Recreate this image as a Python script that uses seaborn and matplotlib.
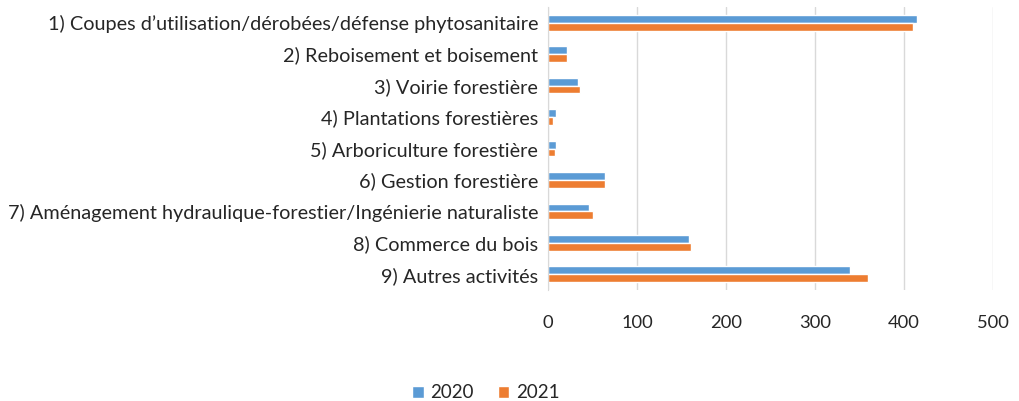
import matplotlib
matplotlib.use("Agg")
import matplotlib.pyplot as plt
import seaborn as sns
import pandas as pd

categories = [
    "1) Coupes d’utilisation/dérobées/défense phytosanitaire",
    "2) Reboisement et boisement",
    "3) Voirie forestière",
    "4) Plantations forestières",
    "5) Arboriculture forestière",
    "6) Gestion forestière",
    "7) Aménagement hydraulique-forestier/Ingénierie naturaliste",
    "8) Commerce du bois",
    "9) Autres activités",
]
values_2020 = [415, 21, 34, 9, 9, 64, 46, 158, 339]
values_2021 = [410, 21, 36, 6, 8, 64, 50, 161, 360]
years = ["2020", "2021"]
colors = ["#5B9BD5", "#ED7D31"]

df = pd.DataFrame({
    "cat": categories * 2,
    "val": values_2020 + values_2021,
    "year": [years[0]] * len(categories) + [years[1]] * len(categories),
})

sns.set_style("white")
plt.rcParams["font.family"] = ["Lato", "DejaVu Sans"]

fig = plt.figure(figsize=(10.19, 4.01), dpi=100)
ax = fig.add_axes([548 / 1019, 1 - 290 / 401, 445 / 1019, 283 / 401])

sns.barplot(data=df, y="cat", x="val", hue="year", palette=colors,
            orient="h", width=0.5, ax=ax, saturation=1, legend=True)

ax.set_xlim(0, 500)
ax.set_ylim(8.5, -0.5)
ax.set_xticks([0, 100, 200, 300, 400, 500])
ax.grid(axis="x", color="#d9d9d9", linewidth=1)
ax.set_axisbelow(True)
for s in ["top", "right", "bottom"]:
    ax.spines[s].set_visible(False)
ax.spines["left"].set_color("#d9d9d9")
ax.tick_params(axis="both", length=0, colors="#262626")
ax.tick_params(axis="x", pad=18, labelsize=13.2)
ax.tick_params(axis="y", pad=7, labelsize=14.3)
ax.set_xlabel("")
ax.set_ylabel("")

ax.legend(loc="center", bbox_to_anchor=(486 / 1019, 8 / 401),
          bbox_transform=fig.transFigure, ncol=2, frameon=False,
          fontsize=13.5, handlelength=0.6, handleheight=0.6,
          columnspacing=1.3, handletextpad=0.35, labelcolor="#262626")

fig.savefig("out.png", dpi=100)
